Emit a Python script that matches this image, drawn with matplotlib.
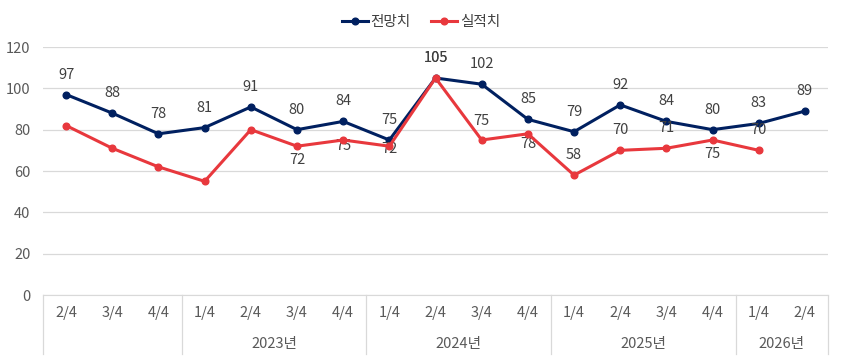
import matplotlib.pyplot as plt
import numpy as np

plt.rcParams['font.family'] = ['Noto Sans CJK KR', 'DejaVu Sans']

# 데이터
quarters = ['2/4', '3/4', '4/4',
            '1/4', '2/4', '3/4', '4/4',
            '1/4', '2/4', '3/4', '4/4',
            '1/4', '2/4', '3/4', '4/4',
            '1/4', '2/4']
years = ['', '2023년', '2024년', '2025년', '2026년']
year_sizes = [3, 4, 4, 4, 2]

forecast = [97, 88, 78, 81, 91, 80, 84, 75, 105, 102, 85, 79, 92, 84, 80, 83, 89]
actual = [82, 71, 62, 55, 80, 72, 75, 72, 105, 75, 78, 58, 70, 71, 75, 70]
# 실적치 라벨은 2023년 3/4부터 표시
actual_label_start = 5
# 라벨 중심의 세로 위치 (px, 점 기준)
actual_offsets = [-14, -6, -3, 20, 19, -10, 20, 20, 20, -14, 20]

navy = '#002060'
red = '#E8383D'
txt = '#404040'

fig = plt.figure(figsize=(8.42, 3.61), dpi=100)
ax = fig.add_axes([0.0511, 0.1828, 0.9323, 0.687])

x = np.arange(len(forecast))
xa = np.arange(len(actual))
ax.plot(x, forecast, color=navy, lw=2.2, marker='o', ms=4.8, label='전망치', zorder=3)
ax.plot(xa, actual, color=red, lw=2.2, marker='o', ms=4.8, label='실적치', zorder=4)

fs = 10.5
for i, v in enumerate(forecast):
    ax.annotate(str(v), (i, v), xytext=(0, 20 * 0.72), textcoords='offset points',
                ha='center', va='center', fontsize=fs, color=txt)
for k, i in enumerate(range(actual_label_start, len(actual))):
    ax.annotate(str(actual[i]), (i, actual[i]), xytext=(0, actual_offsets[k] * 0.72),
                textcoords='offset points', ha='center', va='center',
                fontsize=fs, color=txt)

ax.set_xlim(-0.5, len(quarters) - 0.5)
ax.set_ylim(0, 120)
ax.set_yticks(range(0, 121, 20))
ax.yaxis.grid(True, color='#d9d9d9', lw=0.9)
ax.set_axisbelow(True)
for s in ['top', 'right', 'left']:
    ax.spines[s].set_visible(False)
ax.spines['bottom'].set_color('#d9d9d9')
ax.tick_params(axis='y', length=0, pad=9, labelsize=fs, labelcolor='#595959')
ax.set_xticks(x)
ax.set_xticklabels(quarters)
ax.tick_params(axis='x', length=0, pad=8, labelsize=fs, labelcolor='#595959')

# 연도 구분선과 연도 라벨
tr = ax.get_xaxis_transform()
edges = np.concatenate([[0], np.cumsum(year_sizes)]) - 0.5
for e in edges:
    ax.plot([e, e], [0, -0.238], transform=tr, color='#d9d9d9', lw=0.9, clip_on=False)
for k, yname in enumerate(years):
    c = (edges[k] + edges[k + 1]) / 2
    ax.text(c, -0.197, yname, transform=tr, ha='center', va='center',
            fontsize=fs, color='#595959')

fig.legend(loc='upper center', bbox_to_anchor=(0.5, 0.995), ncol=2, frameon=False,
           fontsize=fs, handlelength=1.8, columnspacing=1.4, handletextpad=0.15,
           labelcolor='#404040')

fig.savefig('out.png', dpi=100)
